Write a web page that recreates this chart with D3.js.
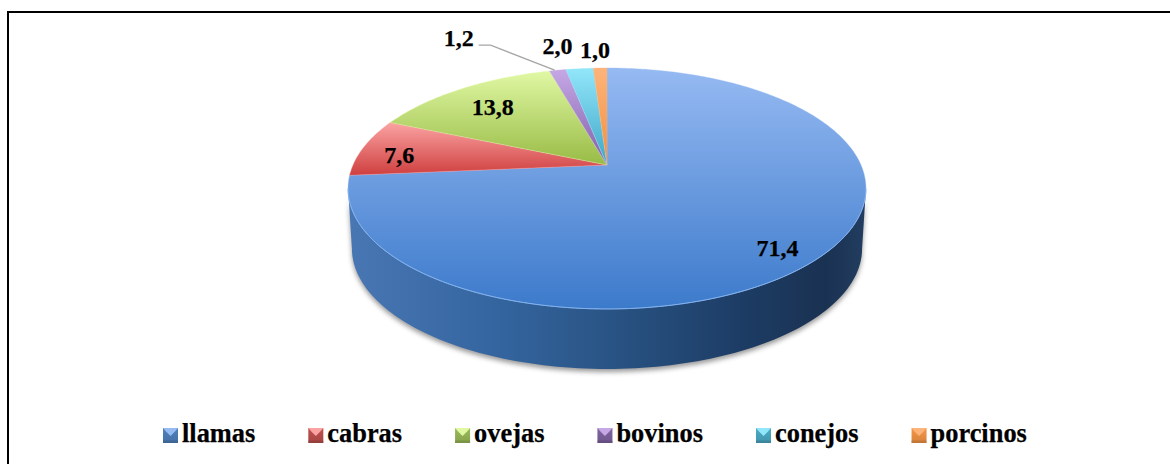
<!DOCTYPE html>
<html><head><meta charset="utf-8">
<script src="https://cdn.jsdelivr.net/npm/d3@7/dist/d3.min.js"></script>
<style>html,body{margin:0;padding:0;background:#fff}svg{display:block}text{font-family:"Liberation Serif","Times New Roman",serif;font-weight:bold;fill:#000;stroke:#000;stroke-width:.25px}</style>
</head><body><svg id="c" width="1170" height="464"></svg>
<script>
const categories = ["llamas","cabras","ovejas","bovinos","conejos","porcinos"];
const values = [71.4,7.6,13.8,1.2,2.0,1.0];
const valueLabels = ["71,4","7,6","13,8","1,2","2,0","1,0"];
const lightColors = ["#96baf2","#fba3a3","#e0f8a4","#c6a8e6","#92e6fa","#fdb47a"];
const darkColors = ["#3c7acb","#cf3f3f","#98bb45","#7f5fa8","#3fa6c6","#f28f3e"];
const legendColors = ["#4f81bd","#c0504d","#9bbb59","#8064a2","#4bacc6","#f79646"];
const labelRadius = [.7,.7,.7,1,1,1];
const labelOffset = [[26,23],[-36,3],[-8,-3],[-99,-32],[-22,-23],[-5,-18]];

const svg = d3.select("#c"), defs = svg.append("defs");
const cx=607, cy=165, K=-0.195, SX=254, SY=115.9, DEPTH=60, LOW=.985;
const project=(a,r=1)=>{const u=r*Math.sin(a),v=-r*Math.cos(a),w=1+K*v;return [cx+SX*u/w,cy+SY*v/w];};
const lower=(a)=>{const p=project(a);return [cx+(p[0]-cx)*LOW,p[1]+DEPTH];};
const line=d3.line();
const arcs=d3.pie().sort(null).value(d=>d)(values);

// frame (top and left rules only)
svg.append("path").attr("d","M8,464V12H1170").attr("fill","none").attr("stroke","#000").attr("stroke-width",2);

// blur + gradients
defs.append("filter").attr("id","blur").attr("x","-10%").attr("y","-10%").attr("width","120%").attr("height","130%")
  .append("feGaussianBlur").attr("stdDeviation",2.5);
const wallG=defs.append("linearGradient").attr("id","wall").attr("x1",0).attr("x2",1).attr("y1",0).attr("y2",0);
[[0,"#4877b4"],[.3,"#34649e"],[.55,"#27507f"],[.75,"#1d3d66"],[.92,"#1a3252"],[1,"#223d60"]].forEach(s=>wallG.append("stop").attr("offset",s[0]).attr("stop-color",s[1]));
categories.forEach((c,i)=>{
  const g=defs.append("linearGradient").attr("id","s"+i).attr("x1",0).attr("x2",0).attr("y1",0).attr("y2",1);
  g.append("stop").attr("offset",0).attr("stop-color",lightColors[i]);
  g.append("stop").attr("offset",1).attr("stop-color",darkColors[i]);
  const b=defs.append("linearGradient").attr("id","l"+i).attr("x1",0).attr("x2",0).attr("y1",0).attr("y2",1);
  b.append("stop").attr("offset",0).attr("stop-color",legendColors[i]);
  b.append("stop").attr("offset",1).attr("stop-color",d3.color(legendColors[i]).darker(.4));
});

// side wall
const leftA=Math.PI+Math.acos(.195), rightA=Math.PI-Math.acos(.195);
const wallPts=[];
d3.range(0,121).forEach(i=>{const a=rightA+(leftA-rightA)*i/120;wallPts.push(lower(a));});
wallPts.push(project(leftA));
d3.range(0,121).forEach(i=>{const a=leftA+(rightA-leftA)*i/120;wallPts.push(project(a));});
const wallD=line(wallPts)+"Z";
svg.append("path").attr("d",wallD).attr("transform","translate(0,3)").attr("fill","#777").attr("opacity",.75).attr("filter","url(#blur)");
svg.append("path").attr("d",wallD).attr("fill","url(#wall)");

// top face
svg.selectAll("path.slice").data(arcs).join("path").attr("class","slice")
  .attr("d",d=>{
    const n=Math.max(4,Math.ceil((d.endAngle-d.startAngle)*60));
    const pts=[[cx,cy]];
    d3.range(n+1).forEach(i=>pts.push(project(d.startAngle+(d.endAngle-d.startAngle)*i/n)));
    return line(pts)+"Z";
  })
  .attr("fill",(d,i)=>`url(#s${i})`)
  .attr("stroke",(d,i)=>lightColors[i]).attr("stroke-opacity",.45).attr("stroke-width",.8).attr("stroke-linejoin","round");
// front rim highlight
svg.append("path").attr("d",line(d3.range(121).map(i=>project(rightA+(leftA-rightA)*i/120))))
  .attr("fill","none").attr("stroke","#7fb0ee").attr("stroke-width",1);

// leader line
const mid=d=>(d.startAngle+d.endAngle)/2;
const pos=arcs.map((d,i)=>{const p=project(mid(d),labelRadius[i]);return [p[0]+labelOffset[i][0],p[1]+labelOffset[i][1]];});
const tip=project(mid(arcs[3]));
svg.append("path").attr("d",line([[pos[3][0]+20,pos[3][1]+7],[pos[3][0]+32,pos[3][1]+7],[tip[0]-3,tip[1]]]))
  .attr("fill","none").attr("stroke","#a6a6a6").attr("stroke-width",1.3);

// value labels
svg.selectAll("text.val").data(valueLabels).join("text").attr("class","val")
  .attr("x",(d,i)=>pos[i][0]).attr("y",(d,i)=>pos[i][1]+8).attr("text-anchor","middle")
  .attr("font-size",24).text(d=>d);

// legend
const SW=15, GAP=53, TX=19, LY=442;
let lx=163;
categories.forEach((c,i)=>{
  const g=svg.append("g").attr("transform",`translate(${lx},${LY-14})`);
  g.append("rect").attr("width",SW).attr("height",SW).attr("fill",`url(#l${i})`);
  g.append("path").attr("d",line([[0,0],[SW,0],[SW-3,3.5],[SW/2,8],[3,3.5]])+"Z").attr("fill",lightColors[i]);
  g.append("rect").attr("x",0).attr("y",SW-2.5).attr("width",SW).attr("height",2.5).attr("fill",d3.color(legendColors[i]).darker(1)).attr("opacity",.5);
  const t=svg.append("text").attr("x",lx+TX).attr("y",LY).attr("font-size",26.4).text(c);
  lx+=TX+t.node().getComputedTextLength()+GAP;
});
</script></body></html>
